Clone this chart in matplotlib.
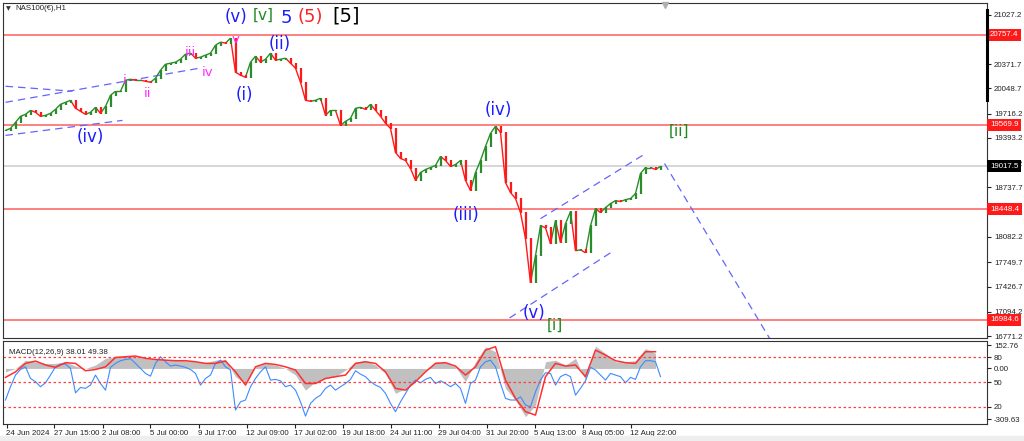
import numpy as np
import matplotlib
matplotlib.use("Agg")
import matplotlib.pyplot as plt
from matplotlib.collections import LineCollection
from matplotlib.transforms import blended_transform_factory


# hourly closes, resampled roughly every ~6-7 bars (NAS100 H1)
closes = [
    19494, 19520, 19600, 19680, 19706, 19759, 19733, 19680, 19693, 19719,
    19772, 19839, 19865, 19892, 19786, 19746, 19706, 19733, 19799, 19719,
    19812, 19958, 20012, 20012, 20158, 20171, 20158, 20158, 20144, 20131,
    20184, 20290, 20370, 20383, 20397, 20436, 20503, 20516, 20450, 20463,
    20490, 20516, 20622, 20662, 20649, 20715, 20264, 20224, 20197, 20397,
    20476, 20397, 20436, 20516, 20423, 20436, 20450, 20383, 20317, 20131,
    19892, 19879, 19892, 19919, 19693, 19759, 19759, 19560, 19613, 19653,
    19786, 19799, 19772, 19839, 19759, 19680, 19587, 19520, 19201, 19122,
    19095, 18989, 18830, 18936, 18976, 19002, 19029, 19148, 19095, 19016,
    19042, 19095, 18830, 18697, 18936, 19095, 19281, 19454, 19547, 19467,
    18803, 18670, 18591, 18405, 18059, 17475, 17834, 18232, 18205, 17993,
    18298, 18006, 18259, 18418, 17900, 17913, 17873, 18232, 18458, 18405,
    18471, 18524, 18564, 18551, 18577, 18591, 18657, 18923, 19002, 19002,
    18976, 19017,
]

# MACD panel: histogram (grey) and signal (red) every 2 samples, blue line every sample
macd_hist = [
    -19, 0, 46, 37, 28, 28, 37, 13, 0, 19, 56, 65, 69, 65, 56, 50, 50, 46,
    43, 37, 32, 46, 50, -46, -84, 9, 28, 19, 0, -37, -121, -74, -56, -46,
    -9, 37, 43, 19, -28, -139, -111, -65, -9, 37, 32, 9, -74, 37, 121, 93,
    -111, -176, -269, -204, 37, 46, 19, 56, -65, 124, 84, 37, 37, 43, 111, 84,
]
macd_signal = [
    -50, -19, 28, 41, 19, 6, 32, 28, -13, -6, 9, 61, 65, 69, 56, 50, 46, 43,
    43, 37, 28, 28, 41, -19, -93, 9, 28, 22, 9, -9, -84, -84, -56, -46,
    -37, 28, 37, 28, -19, -111, -121, -74, -19, 28, 32, 13, -37, 9, 102, 121,
    -65, -167, -241, -260, -46, 28, 13, 19, -46, 102, 74, 43, 32, 28, 93, 93,
]
osc_line = [
    -176, -102, -37, -6, 9, -56, -74, -102, -80, -37, 9, 24, 24, 0, -136,
    -106, -111, -93, -37, -84, -121, 6, 28, 43, 50, 54, 28, 0, -28, -43,
    28, 65, 37, 13, 19, 13, 6, -6, -28, -93, -56, -37, 28, 46, 9, -9,
    -232, -186, -176, -102, -56, -19, 9, -65, -61, -69, -102, -93, -121, -186,
    -266, -195, -167, -149, -111, -93, -121, -102, -84, -61, -13, -32, -46, -74,
    -93, -106, -139, -195, -241, -186, -139, -93, -65, -80, -61, -50, -84, -69,
    -84, -102, -84, -111, -195, -84, -65, 9, 37, 46, 9, -84, -167, -176,
    -176, -158, -204, -214, -130, -65, -24, -28, -93, -46, -32, -46, -149, -111,
    -69, 6, -9, -37, -65, -28, -37, -46, -80, -50, -61, 9, 43, 43, 37, -46,
]

time_labels = [
    "24 Jun 2024", "27 Jun 15:00", "2 Jul 08:00", "5 Jul 00:00", "9 Jul 17:00",
    "12 Jul 09:00", "17 Jul 02:00", "19 Jul 18:00", "24 Jul 11:00",
    "29 Jul 04:00", "31 Jul 20:00", "5 Aug 13:00", "8 Aug 05:00", "12 Aug 22:00",
]
price_ticks = [21027.2, 20704.2, 20371.7, 20048.7, 19716.2, 19393.2, 19060.2,
               18737.7, 18405.2, 18082.2, 17749.7, 17426.7, 17094.2, 16771.2]
levels = [20757.4, 19569.9, 18448.4, 16984.6]
last_price = 19017.5

BLUE = "#1c1cff"
MAGENTA = "#ff2bff"
GREEN = "#1e8a1e"
UP = "#2a8c2a"
DOWN = "#ff1a1a"
DASH = "#6464ff"
SMALL = dict(family="Liberation Sans", size=5.7)

plt.rcParams["font.family"] = ["DejaVu Sans"]

W, H = 1024, 441
fig = plt.figure(figsize=(W / 100, H / 100), dpi=100)
ax = fig.add_axes([3 / W, 1 - 338 / H, 984 / W, 335 / H])
ax2 = fig.add_axes([3 / W, 1 - 424 / H, 984 / W, 83 / H], sharex=ax)

x = np.arange(len(closes))
c = np.array(closes, dtype=float)
xmin, xmax = -0.5, -0.5 + 984 / 5
ax.set_xlim(xmin, xmax)
ax.set_ylim(16745, 21180)

# price path as red/green candles
op = np.r_[c[0], c[:-1]]
cols = [UP if b >= a else DOWN for a, b in zip(op, c)]
segs = [[(i - 1, op[i]), (i, c[i])] for i in range(1, len(c))]
ax.add_collection(LineCollection(segs, colors=cols[1:], linewidths=1.0, zorder=3))
ax.vlines(x, np.minimum(op, c) - 8, np.maximum(op, c) + 8, colors=cols, linewidth=1.6, zorder=3)

for lv in levels:
    ax.axhline(lv, color="#ff6b6b", lw=1.2, zorder=2)
ax.axhline(last_price, color="#cfcfcf", lw=1.2, zorder=1)

# trend / channel lines
dash = dict(color=DASH, lw=0.9, ls=(0, (6, 4)), zorder=2)
ax.plot([0, 13.4], [20078, 20012], **dash)
ax.plot([0, 38.8], [19865, 20317], **dash)
ax.plot([0, 23.4], [19427, 19626], **dash)
ax.plot([107, 127.4], [18325, 19162], **dash)
ax.plot([100.8, 121], [17010, 17873], **dash)
ax.plot([131.8, 155], [19055, 16500], **dash)

# wave labels
def lab(t, xi, yp, col, fs):
    ax.text(xi, yp, t, color=col, fontsize=fs, ha="center", va="center", zorder=5)

lab("(iv)", 17, 19401, BLUE, 12)
lab("i", 23.8, 20158, MAGENTA, 9.5)
lab("ii", 28.4, 19985, MAGENTA, 9.5)
lab("iii", 37, 20529, MAGENTA, 9.5)
lab("iv", 40.4, 20264, MAGENTA, 9.5)
lab("v", 46, 20702, MAGENTA, 9.5)
lab("(i)", 47.8, 19958, BLUE, 12)
lab("(ii)", 54.8, 20636, BLUE, 12)
lab("(v)", 46.0, 20994, BLUE, 12)
lab("[v]", 51.6, 21021, GREEN, 11)
lab("5", 56.2, 20981, BLUE, 13)
lab("(5)", 61, 20994, "#ff2020", 13)
lab("[5]", 68.2, 21007, "black", 14)
lab("(iv)", 98.6, 19759, BLUE, 12)
lab("(iii)", 92, 18378, BLUE, 12)
lab("(v)", 105.8, 17077, BLUE, 12)
lab("[i]", 109.8, 16917, GREEN, 11)
lab("[ii]", 134.6, 19480, GREEN, 11)

ax.plot([131.8], [21150], marker="v", ms=5, color="#b0b0b0", clip_on=False, zorder=6)

# right price scale
for a in (ax, ax2):
    for s in a.spines.values():
        s.set_linewidth(0.8)
        s.set_color("#333333")
    a.set_facecolor("white")
ax.yaxis.tick_right()
ax.set_yticks(price_ticks)
ax.set_yticklabels([f"{p:.1f}" for p in price_ticks], **SMALL)
ax.tick_params(axis="y", length=3, width=0.8, pad=2, colors="#222222")
ax.tick_params(axis="x", bottom=False, labelbottom=False)
tr = blended_transform_factory(ax.transAxes, ax.transData)
box = dict(boxstyle="square,pad=0.32", ec="none")
for lv in levels:
    ax.text(1.003, lv, f"{lv:.1f}", transform=tr, color="white", va="center", ha="left",
            bbox=dict(box, fc="#ff1a1a"), zorder=7, **SMALL)
ax.text(1.003, last_price, f"{last_price:.1f}", transform=tr, color="white", va="center",
        ha="left", bbox=dict(box, fc="black"), zorder=7, **SMALL)
ax.plot([1.0, 1.0], [21087, 19892], transform=tr, color="black", lw=2.2, clip_on=False, zorder=8)

fig.text(6 / W, 1 - 9 / H, "\u25bc", fontsize=4.5, va="center", color="#333333")
fig.text(15 / W, 1 - 9 / H, "NAS100(€),H1", va="center", color="#222222", **SMALL)

# MACD panel
xh = np.arange(len(macd_hist)) * 2
ax2.set_ylim(-309.63, 152.76)
ax2.fill_between(xh, 0, macd_hist, color="#c0c0c0", lw=0, zorder=1)
ax2.plot(xh, macd_signal, color="#ff3030", lw=1.1, zorder=3)
ax2.plot(np.arange(len(osc_line)), osc_line, color="#3d8bff", lw=0.8, zorder=2)
for lv in (61, -78, -214):
    ax2.axhline(lv, color="#ff4040", lw=0.9, ls=(0, (2, 2)), zorder=2)
ax2.text(6 / 984, 0.86, "MACD(12,26,9) 38.01 49.38", transform=ax2.transAxes,
         color="#222222", va="center", **SMALL)
ax2.yaxis.tick_right()
ax2.set_yticks([130, 61, 0, -78, -214, -282])
ax2.set_yticklabels(["152.76", "80", "0.00", "50", "20", "-309.63"], **SMALL)
ax2.tick_params(axis="y", length=3, width=0.8, pad=2, colors="#222222")

tick_pos = 0.2 + 9.6 * np.arange(len(time_labels))
ax2.set_xticks(tick_pos)
ax2.set_xticklabels(time_labels, ha="left", **SMALL)
ax2.tick_params(axis="x", length=3, width=0.8, pad=1, colors="#222222")

fig.patches.append(plt.Rectangle((0, 0), 1, 5 / H, transform=fig.transFigure,
                                 color="#eeeeee", zorder=0))

fig.savefig("out.png", dpi=100, facecolor="white")
